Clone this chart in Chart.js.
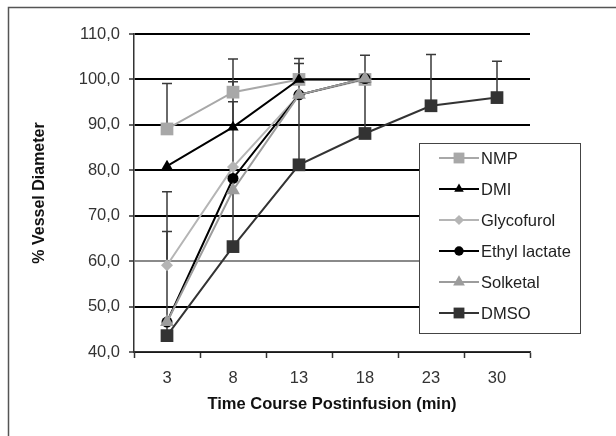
<!DOCTYPE html>
<html lang="en">
<head>
  <meta charset="UTF-8" />
  <title>Vessel Diameter Time Course</title>
  <script src="https://cdn.jsdelivr.net/npm/chart.js"></script>
  <style>
    body {
      margin: 0;
      background: #fff;
    }
    canvas {
      display: block;
    }
  </style>
</head>
<body>
  <canvas id="vesselChart" width="616" height="436"></canvas>

  <script>
    // time points (min)
    const timeLabels = ['3', '8', '13', '18', '23', '30'];

    const seriesNames = ['NMP', 'DMI', 'Glycofurol', 'Ethyl lactate', 'Solketal', 'DMSO'];

    // % vessel diameter per series
    const nmpValues        = [89.1, 97.2, 100.0, 100.0, null, null];
    const dmiValues        = [80.9, 89.5, 100.0, 100.0, null, null];
    const glycofurolValues = [59.1, 80.7, 96.6, 100.0, null, null];
    const ethylValues      = [46.6, 78.2, 96.6, 100.2, null, null];
    const solketalValues   = [46.6, 75.6, 96.6, 100.2, null, null];
    const dmsoValues       = [43.6, 63.2, 81.2, 88.1, 94.2, 96.0];

    // plus-only error bars (Excel style)
    const nmpErr        = [10.0, 7.3, 3.5, null, null, null];
    const dmiErr        = [null, 10.0, null, null, null, null];
    const glycofurolErr = [16.2, null, null, null, null, null];
    const ethylErr      = [null, null, null, null, null, null];
    const solketalErr   = [null, null, null, null, null, null];
    const dmsoErr       = [22.9, 31.9, 23.4, 17.2, 11.3, 8.0];

    const yMin = 40, yMax = 110, yStep = 10;

    const FONT = '"Liberation Sans", Arial, sans-serif';

    const styles = [
      { color: '#a8a8a8', point: 'rect',     radius: 9 },
      { color: '#000000', point: 'triangle', radius: 6.5 },
      { color: '#b5b5b5', point: 'rectRot',  radius: 6 },
      { color: '#000000', point: 'circle',   radius: 5.5 },
      { color: '#9c9c9c', point: 'triangle', radius: 8 },
      { color: '#333333', point: 'rect',     radius: 9 }
    ];
    const allValues = [nmpValues, dmiValues, glycofurolValues, ethylValues, solketalValues, dmsoValues];
    const allErr = [nmpErr, dmiErr, glycofurolErr, ethylErr, solketalErr, dmsoErr];

    // later series sit on top, like the spreadsheet original
    const datasets = seriesNames.map((name, i) => ({
      label: name,
      data: allValues[i],
      order: seriesNames.length - i,
      borderColor: styles[i].color,
      backgroundColor: styles[i].color,
      pointStyle: styles[i].point,
      pointRadius: styles[i].radius,
      pointBorderWidth: 0,
      borderWidth: 2,
      tension: 0,
      spanGaps: false,
      errPlus: allErr[i]
    }));

    // frame around the whole picture
    const framePlugin = {
      id: 'frame',
      beforeDraw(chart) {
        const ctx = chart.ctx;
        ctx.save();
        ctx.strokeStyle = '#555';
        ctx.lineWidth = 1.5;
        ctx.strokeRect(8.5, 7.5, 700, 500);
        ctx.restore();
      }
    };

    // error bars, drawn under the markers
    const errorBarPlugin = {
      id: 'errorBars',
      beforeDatasetsDraw(chart) {
        const ctx = chart.ctx;
        const yScale = chart.scales.y;
        ctx.save();
        ctx.strokeStyle = '#3a3a3a';
        ctx.lineWidth = 1.5;
        chart.data.datasets.forEach((ds, i) => {
          const meta = chart.getDatasetMeta(i);
          (ds.errPlus || []).forEach((e, j) => {
            if (e == null || ds.data[j] == null) return;
            const pt = meta.data[j];
            const y0 = yScale.getPixelForValue(ds.data[j]);
            const y1 = yScale.getPixelForValue(ds.data[j] + e);
            ctx.beginPath();
            ctx.moveTo(pt.x, y0);
            ctx.lineTo(pt.x, y1);
            ctx.moveTo(pt.x - 5, y1);
            ctx.lineTo(pt.x + 5, y1);
            ctx.stroke();
          });
        });
        ctx.restore();
      }
    };

    // boxed legend sitting over the right side of the plot
    const boxLegendPlugin = {
      id: 'boxLegend',
      afterDraw(chart) {
        const ctx = chart.ctx;
        const box = { x: 419.5, y: 143.5, w: 161, h: 190 };
        ctx.save();
        ctx.fillStyle = '#fff';
        ctx.fillRect(box.x, box.y, box.w, box.h);
        ctx.strokeStyle = '#444';
        ctx.lineWidth = 1;
        ctx.strokeRect(box.x, box.y, box.w, box.h);
        ctx.font = '16.5px ' + FONT;
        ctx.textBaseline = 'middle';
        chart.data.datasets.forEach((ds, i) => {
          const cy = 158 + i * 31;
          ctx.strokeStyle = ds.borderColor;
          ctx.lineWidth = 2;
          ctx.beginPath();
          ctx.moveTo(439, cy);
          ctx.lineTo(479, cy);
          ctx.stroke();
          ctx.fillStyle = ds.backgroundColor;
          Chart.helpers.drawPoint(ctx, {
            pointStyle: ds.pointStyle,
            radius: ds.pointRadius * 0.85,
            rotation: 0,
            borderWidth: 0
          }, 459, cy);
          ctx.fillStyle = '#222';
          ctx.fillText(ds.label, 481, cy + 1);
        });
        ctx.restore();
      }
    };

    new Chart(document.getElementById('vesselChart').getContext('2d'), {
      type: 'line',
      data: { labels: timeLabels, datasets },
      options: {
        responsive: false,
        animation: false,
        layout: { padding: { left: 0, right: 86, top: 34, bottom: 0 } },
        plugins: {
          legend: { display: false },
          tooltip: { enabled: false }
        },
        scales: {
          x: {
            offset: true,
            grid: {
              offset: true,
              drawOnChartArea: false,
              drawTicks: true,
              tickLength: 6,
              tickColor: '#333',
              tickWidth: 1.5
            },
            border: { color: '#333', width: 1.5 },
            ticks: {
              color: '#333',
              padding: 11,
              font: { family: FONT, size: 16.5 }
            },
            title: {
              display: true,
              text: 'Time Course Postinfusion (min)',
              color: '#111',
              padding: { top: 0, bottom: 22 },
              font: { family: FONT, size: 16.5, weight: 'bold' }
            },
            afterFit(scale) { scale.height = 84; }
          },
          y: {
            min: yMin,
            max: yMax,
            ticks: {
              stepSize: yStep,
              color: '#333',
              padding: 9,
              font: { family: FONT, size: 16.5 },
              callback: v => v.toFixed(1).replace('.', ',')
            },
            grid: {
              color: ctx => ctx.tick && ctx.tick.value === 60 ? '#8a8a8a' : '#000',
              lineWidth: 2,
              tickLength: 5,
              tickColor: '#333',
              tickWidth: 1.5
            },
            border: { color: '#333', width: 1.5 },
            title: {
              display: true,
              text: '% Vessel Diameter',
              color: '#111',
              padding: { top: 30, bottom: 0 },
              font: { family: FONT, size: 16, weight: 'bold' }
            },
            afterFit(scale) { scale.width = 134; }
          }
        }
      },
      plugins: [framePlugin, errorBarPlugin, boxLegendPlugin]
    });
  </script>
</body>
</html>
